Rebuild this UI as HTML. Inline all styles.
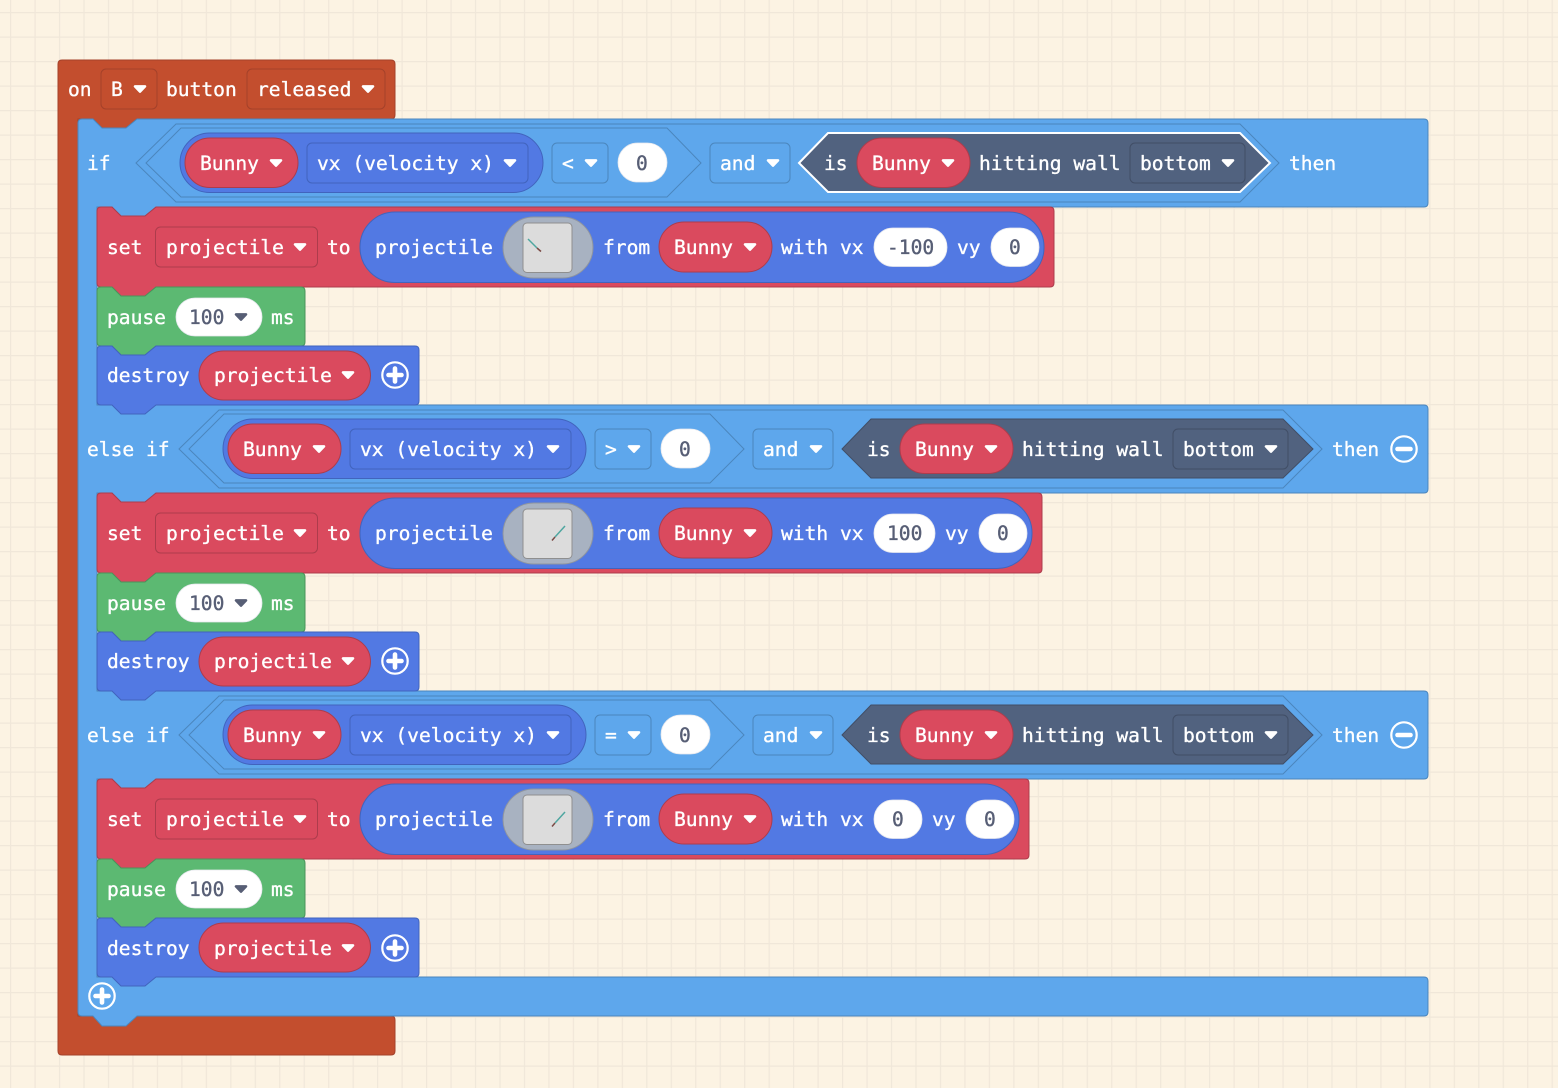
<!DOCTYPE html>
<html><head><meta charset="utf-8"><style>
html,body{margin:0;padding:0;background:#fcf3e3}
svg{display:block}
text{font-family:"DejaVu Sans Mono","Liberation Mono",monospace;font-size:19.6px;fill:#fff;stroke:#fff;stroke-width:.35}
text.d{fill:#575e75;stroke:#575e75}
.b{fill:#5ea7ec;stroke:#4b86bd;stroke-width:1}
.n{fill:#5279e3;stroke:#4164bd;stroke-width:1}
.r{fill:#da4a5e;stroke:#ad3c4c;stroke-width:1}
.g{fill:#5cb972;stroke:#4a945b;stroke-width:1}
.s{fill:#51627f;stroke:#414e66;stroke-width:1}
.h{fill:#c34e2e;stroke:#a4412a;stroke-width:1}
.w{fill:#fff;stroke:#e6e8ee;stroke-width:.8}
.o{fill:none;stroke:#4b86bd;stroke-width:1}
</style></head><body>
<svg xmlns="http://www.w3.org/2000/svg" width="1558" height="1088" viewBox="0 0 1558 1088">
<defs>
<pattern id="grid" x="10" y="12" width="24.47" height="24.5" patternUnits="userSpaceOnUse">
<path d="M0 0V24.5M0 0H24.47" stroke="#f0e7d9" stroke-width="2.4" fill="none"/>
</pattern>
<g id="c"><path d="M-5 -2.600H5L0 2.600Z" fill="#fff" stroke="#fff" stroke-width="2.600" stroke-linejoin="round"/></g>
<g id="cd"><path d="M-5 -2.600H5L0 2.600Z" fill="#575e75" stroke="#575e75" stroke-width="2.600" stroke-linejoin="round"/></g>
<g id="plus"><circle r="12.700" fill="none" stroke="#fff" stroke-width="2.200"/><path d="M-6.500 0H6.500M0 -6.500V6.500" stroke="#fff" stroke-width="4.600" stroke-linecap="round"/></g>
<g id="minus"><circle r="12.700" fill="none" stroke="#fff" stroke-width="2.200"/><path d="M-6.500 0H6.500" stroke="#fff" stroke-width="4.600" stroke-linecap="round"/></g>
<path id="pauseShape" d="M4,0L15,0L24,9L48,9L59,0L204,0Q208,0 208,4L208,55Q208,59 204,59L59,59L48,68L24,68L15,59L4,59Q0,59 0,55L0,4Q0,0 4,0Z"/>
<path id="destroyShape" d="M4,0L15,0L24,9L48,9L59,0L318,0Q322,0 322,4L322,55Q322,59 318,59L59,59L48,68L24,68L15,59L4,59Q0,59 0,55L0,4Q0,0 4,0Z"/>
</defs>
<rect width="1558" height="1088" fill="#fcf3e3"/>
<rect width="1558" height="1088" fill="url(#grid)"/>

<!-- hat -->
<path class="h" d="M62,60H391Q395,60 395,64V115Q395,119 391,119H137L126,128H102L93,119H78V1016H391Q395,1016 395,1020V1051Q395,1055 391,1055H62Q58,1055 58,1051V64Q58,60 62,60Z"/>
<text x="68" y="96">on</text>
<rect x="101" y="69" width="56" height="40" rx="5" fill="#c34e2e" stroke="#a4412a" stroke-width="1"/>
<text x="111" y="96">B</text><use href="#c" x="140" y="89"/>
<text x="166" y="96">button</text>
<rect x="247" y="69" width="138" height="40" rx="5" fill="#c34e2e" stroke="#a4412a" stroke-width="1"/>
<text x="257" y="96">released</text><use href="#c" x="368" y="89"/>

<!-- if C-block -->
<path class="b" d="M82,119H93L102,128H126L137,119H1424Q1428,119 1428,123V203Q1428,207 1424,207H156L145,216H121L112,207H97V405H1424Q1428,405 1428,409V489Q1428,493 1424,493H156L145,502H121L112,493H97V691H1424Q1428,691 1428,695V775Q1428,779 1424,779H156L145,788H121L112,779H97V977H1424Q1428,977 1428,981V1012Q1428,1016 1424,1016H137L126,1026H102L93,1016H82Q78,1016 78,1012V123Q78,119 82,119Z"/>

<!-- section 1 -->
<text x="87" y="170">if</text>
<path class="o" d="M136,163L176,124H1240L1279,163L1240,202H176Z"/>
<path class="o" d="M146,163L181,128H667L701,163L667,197H181Z"/>
<rect class="n" x="180" y="133" width="363" height="59.500" rx="29.700"/>
<rect class="r" x="185" y="138" width="113" height="49.500" rx="24.700"/>
<text x="200" y="170">Bunny</text><use href="#c" x="276" y="163"/>
<rect class="n" x="307" y="143" width="221" height="40" rx="5"/>
<text x="317" y="170">vx (velocity x)</text><use href="#c" x="510" y="163"/>
<rect class="b" x="552" y="143" width="56" height="40" rx="5"/>
<text x="562" y="170">&lt;</text><use href="#c" x="591" y="163"/>
<rect class="w" x="618" y="143" width="49" height="39" rx="19.500"/>
<text class="d" x="636" y="170">0</text>
<rect class="b" x="710" y="143" width="80" height="40" rx="5"/>
<text x="720" y="170">and</text><use href="#c" x="773" y="163"/>
<path d="M799,163L828,133H1240L1270,163L1240,192H828Z" fill="#51627f" stroke="#fff" stroke-width="2"/>
<text x="824" y="170">is</text>
<rect class="r" x="857" y="138" width="113" height="49.500" rx="24.700"/>
<text x="872" y="170">Bunny</text><use href="#c" x="948" y="163"/>
<text x="979" y="170">hitting wall</text>
<rect class="s" x="1130" y="143" width="115" height="40" rx="5"/>
<text x="1140" y="170">bottom</text><use href="#c" x="1228" y="163"/>
<text x="1289" y="170">then</text>

<!-- set 1 -->
<path class="r" d="M101,207H112L121,216H145L156,207H1050Q1054,207 1054,211V283Q1054,287 1050,287H156L145,296H121L112,287H101Q97,287 97,283V211Q97,207 101,207Z"/>
<text x="107" y="254">set</text>
<rect class="r" x="155.500" y="227" width="162" height="40" rx="5"/>
<text x="166" y="254">projectile</text><use href="#c" x="300" y="247"/>
<text x="327" y="254">to</text>
<rect class="n" x="360" y="212" width="684" height="70.500" rx="35"/>
<text x="375" y="254">projectile</text>
<rect x="503" y="217" width="90" height="61" rx="30.500" fill="#a8b2c1" stroke="#8f959f" stroke-width="1"/>
<rect x="523" y="223" width="49" height="49.500" rx="4" fill="#dcdcdc" stroke="#8f8f8f" stroke-width="1"/>
<path d="M528,239L537,248" stroke="#4fa6a0" stroke-width="1.500"/><path d="M537,248L541,251.500" stroke="#7b4a45" stroke-width="1.500"/>
<text x="603" y="254">from</text>
<rect class="r" x="659" y="222" width="113" height="50" rx="25"/>
<text x="674" y="254">Bunny</text><use href="#c" x="750" y="247"/>
<text x="781" y="254">with vx</text>
<rect class="w" x="874" y="228" width="73" height="38.500" rx="19"/>
<text class="d" x="887" y="254">-100</text>
<text x="957" y="254">vy</text>
<rect class="w" x="991" y="228" width="48" height="38.500" rx="19"/>
<text class="d" x="1009" y="254">0</text>

<!-- pause 1 -->
<use href="#pauseShape" class="g" x="97" y="287"/>
<text x="107" y="324">pause</text>
<rect class="w" x="176" y="298" width="86" height="38" rx="19"/>
<text class="d" x="189" y="324">100</text><use href="#cd" x="241" y="317"/>
<text x="271" y="324">ms</text>

<!-- destroy 1 -->
<use href="#destroyShape" class="n" x="97" y="346"/>
<text x="107" y="382">destroy</text>
<rect class="r" x="199" y="351" width="171.500" height="49" rx="24.500"/>
<text x="214" y="382">projectile</text><use href="#c" x="348" y="375"/>
<use href="#plus" x="395" y="375"/>

<!-- section 2 -->
<text x="87" y="456">else if</text>
<path class="o" d="M179,449L219,410H1283L1322,449L1283,488H219Z"/>
<path class="o" d="M189,449L224,414H710L744,449L710,483H224Z"/>
<rect class="n" x="223" y="419" width="363" height="59.500" rx="29.700"/>
<rect class="r" x="228" y="424" width="113" height="49.500" rx="24.700"/>
<text x="243" y="456">Bunny</text><use href="#c" x="319" y="449"/>
<rect class="n" x="350" y="429" width="221" height="40" rx="5"/>
<text x="360" y="456">vx (velocity x)</text><use href="#c" x="553" y="449"/>
<rect class="b" x="595" y="429" width="56" height="40" rx="5"/>
<text x="605" y="456">&gt;</text><use href="#c" x="634" y="449"/>
<rect class="w" x="661" y="429" width="49" height="39" rx="19.500"/>
<text class="d" x="679" y="456">0</text>
<rect class="b" x="753" y="429" width="80" height="40" rx="5"/>
<text x="763" y="456">and</text><use href="#c" x="816" y="449"/>
<path class="s" d="M842,449L871,419H1283L1313,449L1283,478H871Z"/>
<text x="867" y="456">is</text>
<rect class="r" x="900" y="424" width="113" height="49.500" rx="24.700"/>
<text x="915" y="456">Bunny</text><use href="#c" x="991" y="449"/>
<text x="1022" y="456">hitting wall</text>
<rect class="s" x="1173" y="429" width="115" height="40" rx="5"/>
<text x="1183" y="456">bottom</text><use href="#c" x="1271" y="449"/>
<text x="1332" y="456">then</text>
<use href="#minus" x="1404" y="449"/>

<!-- set 2 -->
<path class="r" d="M101,493H112L121,502H145L156,493H1038Q1042,493 1042,497V569Q1042,573 1038,573H156L145,582H121L112,573H101Q97,573 97,569V497Q97,493 101,493Z"/>
<text x="107" y="540">set</text>
<rect class="r" x="155.500" y="513" width="162" height="40" rx="5"/>
<text x="166" y="540">projectile</text><use href="#c" x="300" y="533"/>
<text x="327" y="540">to</text>
<rect class="n" x="360" y="498" width="672" height="70.500" rx="35"/>
<text x="375" y="540">projectile</text>
<rect x="503" y="503" width="90" height="61" rx="30.500" fill="#a8b2c1" stroke="#8f959f" stroke-width="1"/>
<rect x="523" y="509" width="49" height="49.500" rx="4" fill="#dcdcdc" stroke="#8f8f8f" stroke-width="1"/>
<path d="M565,526L555,537" stroke="#4fa6a0" stroke-width="1.500"/><path d="M555,537L552,540.500" stroke="#7b4a45" stroke-width="1.500"/>
<text x="603" y="540">from</text>
<rect class="r" x="659" y="508" width="113" height="50" rx="25"/>
<text x="674" y="540">Bunny</text><use href="#c" x="750" y="533"/>
<text x="781" y="540">with vx</text>
<rect class="w" x="874" y="514" width="61" height="38.500" rx="19"/>
<text class="d" x="887" y="540">100</text>
<text x="945" y="540">vy</text>
<rect class="w" x="979" y="514" width="48" height="38.500" rx="19"/>
<text class="d" x="997" y="540">0</text>

<!-- pause 2 -->
<use href="#pauseShape" class="g" x="97" y="573"/>
<text x="107" y="610">pause</text>
<rect class="w" x="176" y="584" width="86" height="38" rx="19"/>
<text class="d" x="189" y="610">100</text><use href="#cd" x="241" y="603"/>
<text x="271" y="610">ms</text>

<!-- destroy 2 -->
<use href="#destroyShape" class="n" x="97" y="632"/>
<text x="107" y="668">destroy</text>
<rect class="r" x="199" y="637" width="171.500" height="49" rx="24.500"/>
<text x="214" y="668">projectile</text><use href="#c" x="348" y="661"/>
<use href="#plus" x="395" y="661"/>

<!-- section 3 -->
<text x="87" y="742">else if</text>
<path class="o" d="M179,735L219,696H1283L1322,735L1283,774H219Z"/>
<path class="o" d="M189,735L224,700H710L744,735L710,769H224Z"/>
<rect class="n" x="223" y="705" width="363" height="59.500" rx="29.700"/>
<rect class="r" x="228" y="710" width="113" height="49.500" rx="24.700"/>
<text x="243" y="742">Bunny</text><use href="#c" x="319" y="735"/>
<rect class="n" x="350" y="715" width="221" height="40" rx="5"/>
<text x="360" y="742">vx (velocity x)</text><use href="#c" x="553" y="735"/>
<rect class="b" x="595" y="715" width="56" height="40" rx="5"/>
<text x="605" y="742">=</text><use href="#c" x="634" y="735"/>
<rect class="w" x="661" y="715" width="49" height="39" rx="19.500"/>
<text class="d" x="679" y="742">0</text>
<rect class="b" x="753" y="715" width="80" height="40" rx="5"/>
<text x="763" y="742">and</text><use href="#c" x="816" y="735"/>
<path class="s" d="M842,735L871,705H1283L1313,735L1283,764H871Z"/>
<text x="867" y="742">is</text>
<rect class="r" x="900" y="710" width="113" height="49.500" rx="24.700"/>
<text x="915" y="742">Bunny</text><use href="#c" x="991" y="735"/>
<text x="1022" y="742">hitting wall</text>
<rect class="s" x="1173" y="715" width="115" height="40" rx="5"/>
<text x="1183" y="742">bottom</text><use href="#c" x="1271" y="735"/>
<text x="1332" y="742">then</text>
<use href="#minus" x="1404" y="735"/>

<!-- set 3 -->
<path class="r" d="M101,779H112L121,788H145L156,779H1025Q1029,779 1029,783V855Q1029,859 1025,859H156L145,868H121L112,859H101Q97,859 97,855V783Q97,779 101,779Z"/>
<text x="107" y="826">set</text>
<rect class="r" x="155.500" y="799" width="162" height="40" rx="5"/>
<text x="166" y="826">projectile</text><use href="#c" x="300" y="819"/>
<text x="327" y="826">to</text>
<rect class="n" x="360" y="784" width="659" height="70.500" rx="35"/>
<text x="375" y="826">projectile</text>
<rect x="503" y="789" width="90" height="61" rx="30.500" fill="#a8b2c1" stroke="#8f959f" stroke-width="1"/>
<rect x="523" y="795" width="49" height="49.500" rx="4" fill="#dcdcdc" stroke="#8f8f8f" stroke-width="1"/>
<path d="M565,812L555,823" stroke="#4fa6a0" stroke-width="1.500"/><path d="M555,823L552,826.500" stroke="#7b4a45" stroke-width="1.500"/>
<text x="603" y="826">from</text>
<rect class="r" x="659" y="794" width="113" height="50" rx="25"/>
<text x="674" y="826">Bunny</text><use href="#c" x="750" y="819"/>
<text x="781" y="826">with vx</text>
<rect class="w" x="874" y="800" width="48" height="38.500" rx="19"/>
<text class="d" x="892" y="826">0</text>
<text x="932" y="826">vy</text>
<rect class="w" x="966" y="800" width="48" height="38.500" rx="19"/>
<text class="d" x="984" y="826">0</text>

<!-- pause 3 -->
<use href="#pauseShape" class="g" x="97" y="859"/>
<text x="107" y="896">pause</text>
<rect class="w" x="176" y="870" width="86" height="38" rx="19"/>
<text class="d" x="189" y="896">100</text><use href="#cd" x="241" y="889"/>
<text x="271" y="896">ms</text>

<!-- destroy 3 -->
<use href="#destroyShape" class="n" x="97" y="918"/>
<text x="107" y="955">destroy</text>
<rect class="r" x="199" y="923" width="171.500" height="49" rx="24.500"/>
<text x="214" y="955">projectile</text><use href="#c" x="348" y="948"/>
<use href="#plus" x="395" y="948"/>

<use href="#plus" x="102" y="996"/>
</svg>
</body></html>
